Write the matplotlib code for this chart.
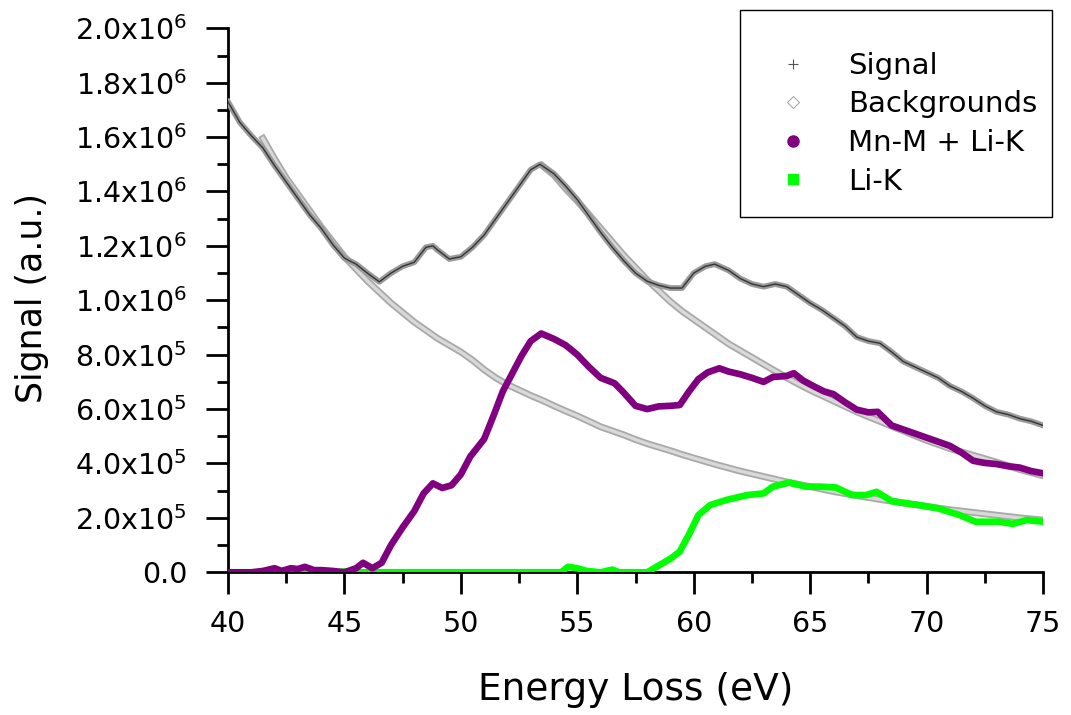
import matplotlib
matplotlib.use("Agg")
import matplotlib.pyplot as plt
from matplotlib.lines import Line2D
from matplotlib.patches import Rectangle
from matplotlib.ticker import MultipleLocator

# ---------------- data ----------------
signal_x = [40.0, 40.5, 41.0, 41.5, 42.0, 42.5, 43.0, 43.5, 44.0, 44.5, 45.0, 45.5,
            46.0, 46.5, 47.0, 47.5, 48.0, 48.5, 48.8, 49.0, 49.5, 50.0, 50.5, 51.0,
            51.5, 52.0, 52.5, 53.0, 53.4, 54.0, 54.5, 55.0, 55.5, 56.0, 56.5, 57.0,
            57.5, 58.0, 58.5, 59.0, 59.5, 60.0, 60.5, 60.9, 61.5, 62.0, 62.5, 63.0,
            63.5, 64.0, 64.5, 65.0, 65.5, 66.0, 66.5, 67.0, 67.5, 68.0, 68.5, 69.0,
            69.5, 70.0, 70.5, 71.0, 71.5, 72.0, 72.5, 73.0, 73.5, 74.0, 74.5, 75.0]
signal_y = [1.73, 1.655, 1.605, 1.56, 1.495, 1.435, 1.375, 1.315, 1.265, 1.205, 1.155, 1.133,
            1.099, 1.068, 1.10, 1.125, 1.14, 1.195, 1.20, 1.185, 1.152, 1.16, 1.195, 1.24,
            1.30, 1.36, 1.42, 1.48, 1.50, 1.465, 1.42, 1.37, 1.31, 1.25, 1.195, 1.145,
            1.10, 1.07, 1.055, 1.045, 1.045, 1.10, 1.125, 1.133, 1.11, 1.08, 1.06, 1.05,
            1.06, 1.05, 1.02, 0.99, 0.965, 0.935, 0.905, 0.865, 0.85, 0.842, 0.81, 0.775,
            0.755, 0.735, 0.715, 0.685, 0.665, 0.64, 0.612, 0.59, 0.58, 0.565, 0.555, 0.54]

bkg1_x = [41.5, 42.0, 42.5, 43.0, 43.5, 44.0, 44.5, 45.0, 45.5, 46.0, 46.5, 47.0,
          47.5, 48.0, 48.5, 49.0, 49.5, 50.0, 50.5, 51.0, 51.5, 52.0, 52.5, 53.0,
          53.5, 54.0, 54.5, 55.0, 55.5, 56.0, 56.5, 57.0, 57.5, 58.0, 58.5, 59.0,
          59.5, 60.0, 61.0, 62.0, 63.0, 64.0, 65.0, 66.0, 67.0, 68.0, 69.0, 70.0,
          71.0, 72.0, 73.0, 74.0, 75.0]
bkg1_y = [1.595, 1.52, 1.45, 1.39, 1.33, 1.27, 1.215, 1.16, 1.115, 1.07, 1.03, 0.99,
          0.955, 0.92, 0.89, 0.86, 0.835, 0.81, 0.78, 0.745, 0.715, 0.69, 0.67, 0.65,
          0.632, 0.612, 0.593, 0.575, 0.555, 0.535, 0.52, 0.505, 0.488, 0.473, 0.46, 0.447,
          0.433, 0.42, 0.395, 0.372, 0.352, 0.332, 0.315, 0.297, 0.282, 0.268, 0.255, 0.242,
          0.23, 0.22, 0.21, 0.2, 0.192]

bkg2_x = [53.5, 54.0, 54.5, 55.0, 55.5, 56.0, 56.5, 57.0, 57.5, 58.0, 58.5, 59.0,
          59.5, 60.0, 60.5, 61.0, 61.5, 62.0, 62.5, 63.0, 63.5, 64.0, 64.5, 65.0,
          65.5, 66.0, 66.5, 67.0, 67.5, 68.0, 68.5, 69.0, 69.5, 70.0, 71.0, 72.0,
          73.0, 74.0, 75.0]
bkg2_y = [1.495, 1.46, 1.41, 1.365, 1.315, 1.265, 1.215, 1.165, 1.12, 1.075, 1.035, 0.995,
          0.96, 0.93, 0.9, 0.87, 0.84, 0.815, 0.79, 0.765, 0.74, 0.715, 0.692, 0.67,
          0.65, 0.63, 0.61, 0.59, 0.572, 0.555, 0.537, 0.52, 0.502, 0.485, 0.455, 0.43,
          0.405, 0.378, 0.355]

mnm_x = [40.0, 40.5, 41.0, 41.5, 42.0, 42.3, 42.7, 43.0, 43.3, 43.7, 44.0, 44.5,
         45.0, 45.5, 45.8, 46.2, 46.6, 47.0, 47.5, 48.0, 48.4, 48.8, 49.2, 49.6,
         50.0, 50.4, 51.0, 51.4, 51.8, 52.2, 52.6, 53.0, 53.45, 54.0, 54.5, 55.0,
         55.5, 56.0, 56.6, 57.0, 57.5, 58.0, 58.5, 59.0, 59.4, 59.8, 60.2, 60.6,
         61.1, 61.5, 62.0, 62.5, 63.0, 63.4, 64.0, 64.3, 64.7, 65.2, 65.6, 66.0,
         66.5, 67.0, 67.5, 67.9, 68.5, 69.0, 69.5, 70.0, 70.5, 71.0, 71.5, 72.0,
         72.5, 73.0, 73.5, 74.0, 74.5, 75.0]
mnm_y = [0.0, 0.0, 0.0, 0.005, 0.015, 0.005, 0.015, 0.012, 0.02, 0.008, 0.008, 0.005,
         0.0, 0.015, 0.035, 0.015, 0.035, 0.10, 0.165, 0.225, 0.29, 0.327, 0.31, 0.32,
         0.36, 0.425, 0.49, 0.575, 0.665, 0.73, 0.795, 0.85, 0.878, 0.858, 0.835, 0.80,
         0.755, 0.715, 0.695, 0.66, 0.612, 0.60, 0.61, 0.612, 0.615, 0.665, 0.71, 0.735,
         0.75, 0.738, 0.728, 0.715, 0.70, 0.718, 0.722, 0.732, 0.705, 0.682, 0.665, 0.655,
         0.625, 0.598, 0.588, 0.59, 0.54, 0.525, 0.51, 0.495, 0.48, 0.465, 0.44, 0.41,
         0.402, 0.398, 0.39, 0.385, 0.372, 0.364]

lik_x = [40.0, 44.5, 45.0, 45.5, 54.3, 54.6, 55.0, 55.4, 56.0, 56.5, 56.8, 58.0,
         58.5, 59.0, 59.4, 59.8, 60.2, 60.7, 61.4, 62.3, 63.0, 63.4, 64.1, 64.8,
         65.4, 66.1, 66.8, 67.4, 67.85, 68.5, 69.0, 69.7, 70.5, 71.4, 72.1, 73.1,
         73.7, 74.3, 75.0]
lik_y = [0.0, 0.0, 0.003, 0.0, 0.0, 0.02, 0.015, 0.005, 0.0, 0.01, 0.0, 0.0,
         0.025, 0.05, 0.076, 0.14, 0.21, 0.247, 0.266, 0.284, 0.29, 0.315, 0.33, 0.315,
         0.315, 0.312, 0.284, 0.284, 0.296, 0.262, 0.255, 0.247, 0.235, 0.211, 0.186, 0.186,
         0.178, 0.192, 0.186]

scale = 1e6
ytick_values = [0.0, 0.2, 0.4, 0.6, 0.8, 1.0, 1.2, 1.4, 1.6, 1.8, 2.0]
ytick_labels = ["0.0", "2.0x10$^{5}$", "4.0x10$^{5}$", "6.0x10$^{5}$", "8.0x10$^{5}$",
                "1.0x10$^{6}$", "1.2x10$^{6}$", "1.4x10$^{6}$", "1.6x10$^{6}$",
                "1.8x10$^{6}$", "2.0x10$^{6}$"]
xtick_values = [40, 45, 50, 55, 60, 65, 70, 75]
legend_labels = ["Signal", "Backgrounds", "Mn-M + Li-K", "Li-K"]

# ---------------- figure ----------------
plt.rcParams['font.family'] = ['DejaVu Sans']
plt.rcParams['mathtext.default'] = 'regular'

W, H = 1071, 715
fig = plt.figure(figsize=(W / 100, H / 100), dpi=100)
ax = fig.add_axes([228 / W, 1 - 572.3 / H, (1043 - 228) / W, (572.3 - 28.3) / H])

def sc(v):
    return [a * scale for a in v]

# backgrounds: grey band of open diamonds
for bx, by in [(bkg1_x, bkg1_y), (bkg2_x, bkg2_y)]:
    ax.plot(bx, sc(by), color='#a9a9a9', lw=5.0, zorder=2)
    ax.plot(bx, sc(by), color='#d9d9d9', lw=2.4, zorder=2.1)
# signal: grey band of crosses with dark core
ax.plot(signal_x, sc(signal_y), color='#9a9a9a', lw=4.2, zorder=3)
ax.plot(signal_x, sc(signal_y), color='#333333', lw=1.0, zorder=3.1)
# components
ax.plot(lik_x, sc(lik_y), color='#00ff00', lw=4.8, solid_joinstyle='round', zorder=4)
ax.plot(mnm_x, sc(mnm_y), color='#800080', lw=4.8, solid_joinstyle='round', zorder=5)

ax.set_xlim(40, 75)
ax.set_ylim(0, 2.0e6)
ax.set_xticks(xtick_values)
ax.set_xticklabels([str(v) for v in xtick_values])
ax.set_yticks([v * scale for v in ytick_values])
ax.set_yticklabels(ytick_labels)
ax.xaxis.set_minor_locator(MultipleLocator(2.5))
ax.yaxis.set_minor_locator(MultipleLocator(1e5))

for s in ['top', 'right']:
    ax.spines[s].set_visible(False)
for s in ['left', 'bottom']:
    ax.spines[s].set_linewidth(2.0)
ax.tick_params(which='major', direction='out', length=15.5, width=2.0, labelsize=20.5)
ax.tick_params(which='minor', direction='out', length=8, width=2.0)
ax.tick_params(axis='y', which='major', pad=14)
ax.tick_params(axis='x', which='major', pad=12)

ax.set_xlabel("Energy Loss (eV)", fontsize=27)
ax.set_ylabel("Signal (a.u.)", fontsize=25)
ax.yaxis.label.set_va('center')
ax.xaxis.label.set_va('center')
ax.yaxis.set_label_coords(-0.241, 0.504)
ax.xaxis.set_label_coords(0.5, -0.217)

# legend
fig.patches.append(Rectangle((740 / W, 1 - 217 / H), (1052 - 740) / W, (217 - 10) / H,
                             transform=fig.transFigure, fill=False, edgecolor='black',
                             lw=1.0, zorder=10))
handles = [
    Line2D([], [], ls='none', marker='+', ms=7, mew=0.8, color='#555555'),
    Line2D([], [], ls='none', marker='D', ms=6, mew=0.8, mfc='none', mec='#aaaaaa'),
    Line2D([], [], ls='none', marker='o', ms=8, color='#800080'),
    Line2D([], [], ls='none', marker='s', ms=7, color='#00ff00'),
]
fig.legend(handles, legend_labels, loc='upper left',
           bbox_to_anchor=(775 / W, 1 - 52 / H), frameon=False, fontsize=21,
           handlelength=1.2, handletextpad=1.3, labelspacing=0.36, borderpad=0,
           borderaxespad=0)

fig.savefig("out.png", dpi=100)
